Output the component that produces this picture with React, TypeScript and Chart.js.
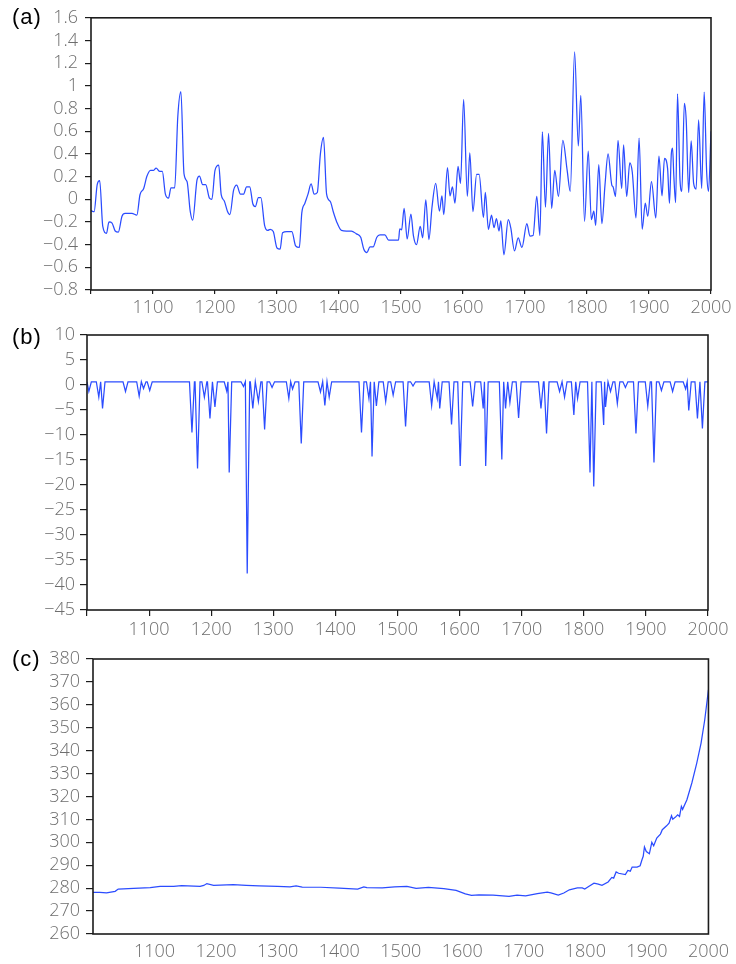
import React, { useEffect, useRef } from 'react';
import { Chart, registerables } from 'chart.js';

Chart.register(...registerables);

const CANVAS_W = 736;
const CANVAS_H = 964;

// Shared time axis
const X_MIN = 1000;
const X_MAX = 2000;
const X_STEP = 100;

// (a) temperature anomaly
const yearsA = [
  1000, 1005, 1010, 1014, 1019, 1025, 1029, 1034, 1039, 1044, 1050, 1055, 1066, 1074, 1079, 1085, 1090, 1096,
  1101, 1105, 1111, 1115, 1120, 1125, 1129, 1135, 1140, 1145, 1150, 1155, 1160, 1164, 1171, 1175, 1180, 1185,
  1191, 1195, 1200, 1206, 1210, 1215, 1220, 1224, 1230, 1235, 1241, 1246, 1251, 1256, 1261, 1265, 1270, 1274,
  1280, 1285, 1289, 1294, 1300, 1305, 1309, 1316, 1324, 1330, 1336, 1340, 1345, 1350, 1355, 1360, 1365, 1370,
  1375, 1380, 1386, 1391, 1396, 1404, 1412, 1420, 1428, 1435, 1440, 1445, 1450, 1455, 1461, 1466, 1474, 1480,
  1488, 1496, 1498, 1501, 1505, 1510, 1516, 1520, 1525, 1531, 1535, 1540, 1545, 1550, 1556, 1562, 1566, 1569,
  1575, 1579, 1583, 1587, 1592, 1596, 1601, 1607, 1611, 1616, 1622, 1626, 1633, 1636, 1641, 1646, 1650, 1654,
  1658, 1661, 1666, 1673, 1677, 1683, 1689, 1695, 1703, 1708, 1713, 1719, 1724, 1728, 1733, 1738, 1743, 1748,
  1754, 1761, 1768, 1773, 1780, 1786, 1790, 1796, 1802, 1807, 1811, 1814, 1819, 1824, 1829, 1834, 1840, 1842,
  1846, 1850, 1856, 1859, 1864, 1869, 1873, 1879, 1884, 1889, 1894, 1898, 1904, 1911, 1916, 1921, 1925, 1930,
  1933, 1936, 1938, 1940, 1943, 1946, 1950, 1953, 1957, 1960, 1964, 1968, 1972, 1976, 1980, 1985, 1989, 1993,
  1996, 2000,
];
const anomalyA = [
  -0.10, -0.11, 0.13, 0.165, -0.24, -0.30, -0.20, -0.21, -0.28, -0.29, -0.15, -0.125, -0.125, -0.14, 0.04, 0.095, 0.20, 0.255,
  0.255, 0.275, 0.245, 0.245, 0.045, 0.01, 0.10, 0.10, 0.73, 0.95, 0.225, 0.155, -0.105, -0.185, 0.17, 0.205, 0.13, 0.13,
  0.01, 0.0, 0.255, 0.30, 0.04, -0.015, -0.105, -0.135, 0.08, 0.125, 0.045, 0.045, 0.11, 0.11, -0.04, -0.065, 0.015, 0.015,
  -0.23, -0.275, -0.265, -0.285, -0.43, -0.44, -0.295, -0.285, -0.285, -0.41, -0.425, -0.12, -0.035, 0.045, 0.135, 0.045, 0.06, 0.40,
  0.545, 0.045, -0.02, -0.115, -0.195, -0.275, -0.28, -0.28, -0.305, -0.335, -0.44, -0.47, -0.42, -0.42, -0.335, -0.315, -0.315, -0.36,
  -0.36, -0.36, -0.26, -0.27, -0.08, -0.35, -0.13, -0.32, -0.40, -0.24, -0.34, -0.005, -0.355, -0.07, 0.14, -0.105, 0.03, -0.135,
  0.28, 0.03, 0.11, -0.035, 0.29, 0.14, 0.88, 0.025, 0.41, -0.11, 0.22, 0.22, -0.16, 0.06, -0.265, -0.14, -0.25, -0.17,
  -0.28, -0.19, -0.49, -0.18, -0.25, -0.455, -0.34, -0.425, -0.215, -0.325, -0.32, 0.025, -0.32, 0.595, -0.07, 0.58, -0.08, 0.255,
  0.025, 0.52, 0.255, 0.07, 1.30, 0.47, 0.915, -0.195, 0.425, -0.18, -0.105, -0.23, 0.305, -0.215, 0.125, 0.40, 0.125, 0.11,
  0.025, 0.52, 0.095, 0.48, 0.025, 0.32, 0.24, -0.165, 0.54, -0.265, -0.035, -0.15, 0.155, -0.165, 0.38, 0.03, 0.36, 0.27,
  -0.035, 0.40, 0.45, 0.21, -0.03, 0.93, 0.17, 0.07, 0.845, 0.70, 0.06, 0.515, 0.14, 0.09, 0.70, 0.095, 0.945, 0.24,
  0.07, 0.60,
];

// (b) volcanic forcing: quiet background level with eruption troughs
const forcingBackground = 0.65;
const eruptionYears = [
  1003, 1019, 1025, 1062, 1084, 1091, 1101, 1169, 1178, 1189, 1198, 1206, 1225, 1229, 1252, 1258, 1267, 1276,
  1286, 1298, 1325, 1331, 1345, 1376, 1383, 1390, 1442, 1454, 1459, 1466, 1481, 1493, 1513, 1525, 1555, 1564,
  1568, 1587, 1601, 1621, 1638, 1642, 1668, 1674, 1681, 1695, 1731, 1740, 1761, 1769, 1784, 1790, 1810, 1816,
  1832, 1835, 1843, 1854, 1867, 1884, 1903, 1913, 1925, 1943, 1964, 1969, 1983, 1991,
];
const eruptionForcing = [
  -1.3, -2.4, -4.7, -1.3, -2.2, -0.7, -1.1, -9.5, -16.7, -2.4, -6.7, -4.4, -1.2, -17.5, -0.3, -37.7, -4.7, -3.3,
  -8.9, -0.5, -2.7, -0.8, -11.7, -1.4, -4.1, -2.4, -9.5, -2.7, -14.3, -4.2, -3.3, -2.0, -8.3, -0.2, -4.1, -2.7,
  -4.7, -7.9, -16.2, -4.3, -4.7, -16.2, -14.9, -4.7, -3.5, -6.6, -4.7, -9.7, -1.3, -2.4, -6.0, -2.7, -17.5, -20.3,
  -8.0, -4.4, -1.3, -3.7, -0.5, -9.7, -4.2, -15.5, -1.1, -1.3, -0.8, -5.1, -6.7, -8.7,
];

// (c) CO2 concentration
const yearsC = [
  1000, 1011, 1022, 1036, 1041, 1066, 1093, 1109, 1131, 1144, 1174, 1180, 1185, 1196, 1228, 1249, 1270, 1300,
  1320, 1330, 1340, 1370, 1400, 1430, 1440, 1445, 1470, 1490, 1510, 1525, 1545, 1570, 1590, 1605, 1615, 1627,
  1650, 1676, 1689, 1703, 1722, 1738, 1744, 1756, 1765, 1774, 1787, 1795, 1799, 1806, 1814, 1821, 1827, 1837,
  1843, 1846, 1850, 1854, 1865, 1869, 1873, 1876, 1884, 1889, 1892, 1894, 1896, 1899, 1904, 1908, 1911, 1916,
  1922, 1925, 1932, 1936, 1940, 1942, 1946, 1950, 1953, 1956, 1958, 1965, 1973, 1981, 1988, 1994, 2000,
];
const co2C = [
  278.2, 278.2, 277.9, 278.6, 279.6, 279.9, 280.2, 280.8, 280.8, 281.1, 280.8, 281.2, 282.0, 281.2, 281.5, 281.2, 281.0, 280.8,
  280.6, 281.0, 280.5, 280.4, 280.0, 279.6, 280.6, 280.2, 280.1, 280.6, 280.8, 279.9, 280.3, 279.8, 279.0, 277.5, 276.9, 277.1,
  277.0, 276.4, 277.0, 276.6, 277.6, 278.3, 277.9, 277.0, 277.9, 279.3, 280.1, 280.1, 279.6, 280.8, 282.2, 281.8, 281.2, 282.7,
  284.7, 284.4, 287.1, 286.5, 285.9, 287.7, 287.4, 289.2, 289.2, 289.8, 292.4, 293.9, 298.0, 296.0, 295.0, 300.0, 298.5, 301.9,
  303.6, 305.5, 307.2, 308.4, 311.6, 310.1, 310.9, 312.0, 311.3, 315.7, 314.4, 318.6, 325.9, 334.6, 343.3, 353.5, 366.6,
];

const panelLabels = ['(a)', '(b)', '(c)'];

type Pt = { x: number; y: number };

const toPoints = (xs: number[], ys: number[]): Pt[] => xs.map((x, i) => ({ x, y: ys[i] }));

// Forcing line: background level between eruptions, dropping to each eruption's value.
function forcingPoints(): Pt[] {
  const half = 4;
  const pts: Pt[] = [{ x: X_MIN, y: forcingBackground }];
  eruptionYears.forEach((yr, i) => {
    const prev = i > 0 ? eruptionYears[i - 1] : null;
    if (prev === null || yr - prev > 2 * half) {
      pts.push({ x: yr - half, y: forcingBackground });
    } else {
      pts.push({ x: (prev + yr) / 2, y: forcingBackground });
    }
    pts.push({ x: yr, y: eruptionForcing[i] });
    const next = eruptionYears[i + 1];
    if (next === undefined || next - yr > 2 * half) {
      pts.push({ x: yr + half, y: forcingBackground });
    }
  });
  pts.push({ x: X_MAX, y: forcingBackground });
  const out: Pt[] = [];
  for (const p of pts) {
    if (p.x < X_MIN || p.x > X_MAX) continue;
    if (out.length && p.x <= out[out.length - 1].x) continue;
    out.push(p);
  }
  return out;
}

const fmtNum = (decimals: number) => (v: number | string) => {
  const n = Number(v);
  const f = Math.pow(10, decimals);
  const r = Math.round(n * f) / f;
  const s = String(Math.abs(r));
  return r < 0 ? '\u2212' + s : s;
};

const TICK_FONT = { family: '"Open Sans", "Liberation Sans", sans-serif', size: 18, weight: 300 as any };
const TICK_COLOR = '#6e6e6e';
const LINE_COLOR = '#2b4cff';
const AXIS_COLOR = '#1c1c1c';

const framePlugin = {
  id: 'frame',
  afterDatasetsDraw(chart: any) {
    const { ctx, chartArea: a } = chart;
    ctx.save();
    ctx.strokeStyle = AXIS_COLOR;
    ctx.lineWidth = 1.6;
    ctx.strokeRect(a.left, a.top, a.right - a.left, a.bottom - a.top);
    ctx.restore();
  },
};

interface PanelSpec {
  points: Pt[];
  left: number;
  right: number;
  top: number;
  bottom: number;
  yMin: number;
  yMax: number;
  yStep: number;
  decimals: number;
  xTickLen: number;
  xPad: number;
  yTickLen: number;
  yPad: number;
  smooth: boolean;
}

function buildConfig(p: PanelSpec): any {
  const xAxisH = 30;
  return {
    type: 'line',
    data: {
      datasets: [
        {
          data: p.points,
          borderColor: LINE_COLOR,
          borderWidth: 1.25,
          pointRadius: 0,
          fill: false,
          tension: p.smooth ? 0.4 : 0,
          cubicInterpolationMode: p.smooth ? 'monotone' : 'default',
        },
      ],
    },
    options: {
      responsive: false,
      animation: false,
      events: [],
      layout: {
        padding: {
          left: 0,
          top: p.top,
          right: CANVAS_W - p.right,
          bottom: CANVAS_H - p.bottom - xAxisH,
        },
      },
      plugins: { legend: { display: false }, tooltip: { enabled: false } },
      scales: {
        x: {
          type: 'linear',
          min: X_MIN,
          max: X_MAX,
          border: { display: false },
          grid: {
            display: true,
            drawOnChartArea: false,
            drawTicks: p.xTickLen > 0,
            tickLength: p.xTickLen,
            color: AXIS_COLOR,
            lineWidth: 1.2,
          },
          ticks: {
            stepSize: X_STEP,
            autoSkip: false,
            maxRotation: 0,
            padding: p.xPad,
            color: TICK_COLOR,
            font: TICK_FONT,
            callback: (v: number) => (v === X_MIN ? '' : String(v)),
          },
          afterFit: (s: any) => {
            s.height = xAxisH;
          },
        },
        y: {
          type: 'linear',
          min: p.yMin,
          max: p.yMax,
          border: { display: false },
          grid: {
            display: true,
            drawOnChartArea: false,
            drawTicks: true,
            tickLength: p.yTickLen,
            color: AXIS_COLOR,
            lineWidth: 1.2,
          },
          ticks: {
            stepSize: p.yStep,
            autoSkip: false,
            padding: p.yPad,
            color: TICK_COLOR,
            font: TICK_FONT,
            callback: fmtNum(p.decimals),
          },
          afterFit: (s: any) => {
            s.width = p.left;
          },
        },
      },
    },
    plugins: [framePlugin],
  };
}

const panels: PanelSpec[] = [
  {
    points: toPoints(yearsA, anomalyA),
    left: 91, right: 711, top: 14, bottom: 290,
    yMin: -0.8, yMax: 1.6, yStep: 0.2, decimals: 1,
    xTickLen: 4, xPad: 3, yTickLen: 6, yPad: 7, smooth: true,
  },
  {
    points: forcingPoints(),
    left: 87, right: 708, top: 335, bottom: 610,
    yMin: -45, yMax: 10, yStep: 5, decimals: 0,
    xTickLen: 6, xPad: 3, yTickLen: 7, yPad: 5, smooth: false,
  },
  {
    points: toPoints(yearsC, co2C),
    left: 93, right: 710, top: 659, bottom: 934,
    yMin: 260, yMax: 380, yStep: 10, decimals: 0,
    xTickLen: 0, xPad: 7, yTickLen: 7, yPad: 6, smooth: false,
  },
];

const labelTops = [6, 326, 648];

export default function App() {
  const refs = [useRef<HTMLCanvasElement>(null), useRef<HTMLCanvasElement>(null), useRef<HTMLCanvasElement>(null)];

  useEffect(() => {
    const charts = panels.map((p, i) => new Chart(refs[i].current as HTMLCanvasElement, buildConfig(p)));
    return () => charts.forEach((c) => c.destroy());
  }, []);

  return (
    <div
      style={{
        position: 'absolute',
        left: 0,
        top: 0,
        width: CANVAS_W,
        height: CANVAS_H,
        background: '#ffffff',
        overflow: 'hidden',
      }}
    >
      {panels.map((_, i) => (
        <canvas
          key={i}
          ref={refs[i]}
          width={CANVAS_W}
          height={CANVAS_H}
          style={{ position: 'absolute', left: 0, top: 0, width: CANVAS_W, height: CANVAS_H }}
        />
      ))}
      {panelLabels.map((t, i) => (
        <div
          key={t}
          style={{
            position: 'absolute',
            left: 12,
            top: labelTops[i],
            fontFamily: '"Liberation Sans", Arial, sans-serif',
            fontSize: 22,
            lineHeight: '22px',
            letterSpacing: 1,
            color: '#000',
          }}
        >
          {t}
        </div>
      ))}
    </div>
  );
}
